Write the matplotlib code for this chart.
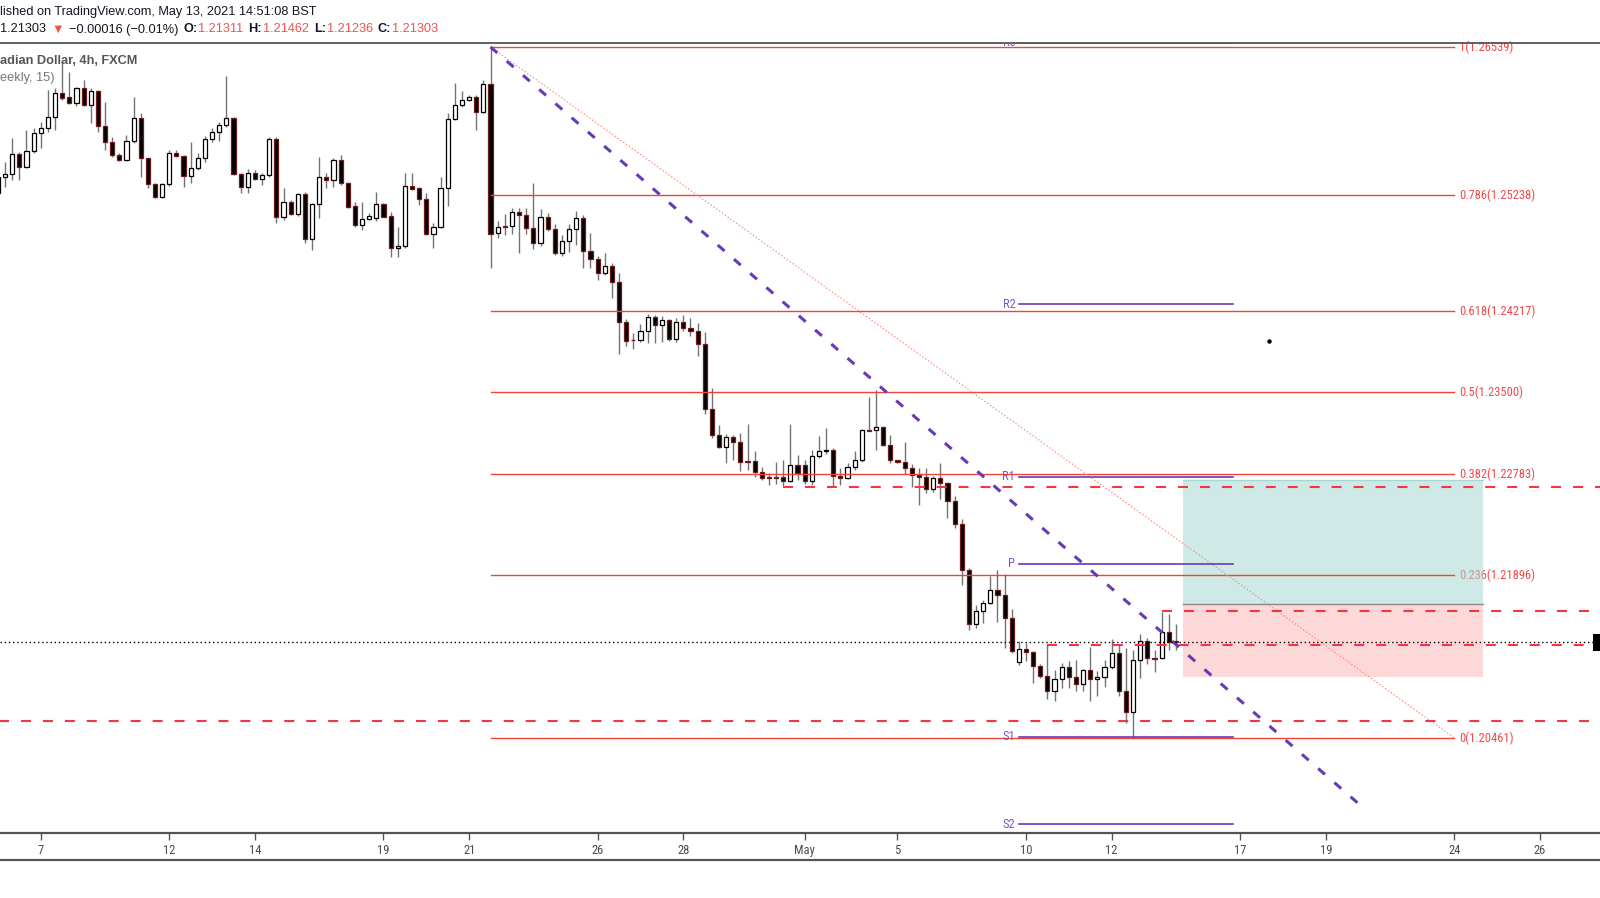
import matplotlib
matplotlib.use("Agg")
import matplotlib.pyplot as plt
from matplotlib import font_manager as fm
from matplotlib.lines import Line2D
from matplotlib.patches import Rectangle
import numpy as np

# USD/CAD 4h candles, x = bar number counted from the first bar of Apr 7
first_bar = -6
opens = [1.25254, 1.25393, 1.25419, 1.25595, 1.25486, 1.25627, 1.25780, 1.25824, 1.25927, 1.26132,
         1.26097, 1.26044, 1.26176, 1.26029, 1.26152, 1.25847, 1.25703, 1.25586, 1.25542, 1.25709,
         1.25912, 1.25560, 1.25331, 1.25217, 1.25331, 1.25604, 1.25577, 1.25401, 1.25472, 1.25560,
         1.25727, 1.25794, 1.25850, 1.25912, 1.25422, 1.25305, 1.25428, 1.25378, 1.25410, 1.25727,
         1.25041, 1.25173, 1.25067, 1.25246, 1.24847, 1.25155, 1.25393, 1.25366, 1.25542, 1.25340,
         1.25140, 1.24970, 1.25023, 1.25032, 1.25155, 1.25052, 1.24768, 1.24791, 1.25313, 1.25296,
         1.25199, 1.24891, 1.24958, 1.25296, 1.25903, 1.26026, 1.26073, 1.26097, 1.25965, 1.26211,
         1.24902, 1.24960, 1.24963, 1.25087, 1.25063, 1.24946, 1.24814, 1.25043, 1.24937, 1.24726,
         1.24832, 1.24937, 1.25034, 1.24746, 1.24673, 1.24550, 1.24612, 1.24471, 1.24119, 1.23964,
         1.23958, 1.24040, 1.24163, 1.24092, 1.24139, 1.23972, 1.24119, 1.24066, 1.24040, 1.23925,
         1.23353, 1.23125, 1.23019, 1.23107, 1.23063, 1.22893, 1.22893, 1.22799, 1.22752, 1.22755,
         1.22755, 1.22720, 1.22866, 1.22858, 1.22720, 1.22940, 1.22981, 1.22998, 1.22764, 1.22749,
         1.22843, 1.22902, 1.23166, 1.23169, 1.23195, 1.23034, 1.22902, 1.22887, 1.22834, 1.22774,
         1.22759, 1.22654, 1.22751, 1.22707, 1.22545, 1.22346, 1.21938, 1.21466, 1.21578, 1.21651,
         1.21762, 1.21721, 1.21519, 1.21132, 1.21246, 1.21220, 1.21094, 1.21006, 1.20874, 1.20982,
         1.21085, 1.21000, 1.20932, 1.21055, 1.20976, 1.21000, 1.21085, 1.21211, 1.20874, 1.20689,
         1.21143, 1.21317, 1.21164, 1.21164, 1.21396, 1.21311]
highs = [1.25440, 1.25530, 1.25736, 1.25618, 1.25809, 1.25824, 1.25882, 1.26161, 1.26176, 1.26410,
         1.26322, 1.26185, 1.26249, 1.26176, 1.26161, 1.26058, 1.25750, 1.25604, 1.25765, 1.26102,
         1.25962, 1.25560, 1.25346, 1.25346, 1.25633, 1.25633, 1.25589, 1.25706, 1.25610, 1.25756,
         1.25824, 1.25882, 1.26284, 1.25927, 1.25434, 1.25463, 1.25457, 1.25428, 1.25750, 1.25750,
         1.25296, 1.25193, 1.25258, 1.25266, 1.25164, 1.25574, 1.25428, 1.25566, 1.25589, 1.25355,
         1.25179, 1.25179, 1.25082, 1.25266, 1.25170, 1.25091, 1.24958, 1.25428, 1.25428, 1.25310,
         1.25252, 1.24988, 1.25398, 1.25956, 1.26226, 1.26155, 1.26117, 1.26117, 1.26249, 1.26539,
         1.25007, 1.25072, 1.25122, 1.25125, 1.25122, 1.25345, 1.25116, 1.25081, 1.24984, 1.24887,
         1.24984, 1.25098, 1.25063, 1.24905, 1.24697, 1.24729, 1.24638, 1.24550, 1.24148, 1.24025,
         1.24104, 1.24192, 1.24183, 1.24172, 1.24148, 1.24154, 1.24183, 1.24157, 1.24110, 1.24031,
         1.23541, 1.23215, 1.23136, 1.23127, 1.23145, 1.23224, 1.22984, 1.22843, 1.22793, 1.22887,
         1.22902, 1.23224, 1.22951, 1.22907, 1.22995, 1.23113, 1.23189, 1.23010, 1.22834, 1.22881,
         1.22981, 1.23180, 1.23459, 1.23526, 1.23204, 1.23127, 1.22910, 1.23063, 1.22872, 1.22839,
         1.22839, 1.22765, 1.22883, 1.22715, 1.22589, 1.22390, 1.21959, 1.21627, 1.21671, 1.21885,
         1.21935, 1.21906, 1.21592, 1.21314, 1.21293, 1.21226, 1.21108, 1.21284, 1.21058, 1.21117,
         1.21138, 1.21146, 1.21064, 1.21264, 1.21050, 1.21146, 1.21328, 1.21284, 1.21255, 1.21232,
         1.21372, 1.21343, 1.21234, 1.21572, 1.21551, 1.21462]
lows = [1.25237, 1.25310, 1.25369, 1.25369, 1.25472, 1.25604, 1.25648, 1.25794, 1.25809, 1.26073,
        1.26038, 1.26020, 1.26020, 1.25868, 1.25794, 1.25633, 1.25574, 1.25539, 1.25539, 1.25692,
        1.25398, 1.25296, 1.25210, 1.25208, 1.25316, 1.25574, 1.25305, 1.25340, 1.25457, 1.25530,
        1.25706, 1.25715, 1.25838, 1.25413, 1.25258, 1.25258, 1.25369, 1.25325, 1.25398, 1.24988,
        1.25017, 1.25061, 1.25052, 1.24812, 1.24753, 1.25032, 1.25296, 1.25310, 1.25325, 1.25120,
        1.24958, 1.24929, 1.25017, 1.25011, 1.25041, 1.24695, 1.24695, 1.24768, 1.25281, 1.25149,
        1.24885, 1.24768, 1.24944, 1.25140, 1.25897, 1.26014, 1.26067, 1.25809, 1.25956, 1.24594,
        1.24858, 1.24881, 1.24890, 1.24729, 1.24896, 1.24758, 1.24785, 1.24920, 1.24705, 1.24697,
        1.24735, 1.24793, 1.24597, 1.24594, 1.24485, 1.24535, 1.24330, 1.23834, 1.23908, 1.23878,
        1.23943, 1.23934, 1.23934, 1.23943, 1.23952, 1.23943, 1.24045, 1.23993, 1.23820, 1.23312,
        1.23098, 1.23010, 1.22878, 1.22902, 1.22805, 1.22822, 1.22755, 1.22726, 1.22687, 1.22696,
        1.22667, 1.22711, 1.22726, 1.22696, 1.22687, 1.22922, 1.22960, 1.22667, 1.22682, 1.22740,
        1.22822, 1.22887, 1.23157, 1.22998, 1.23028, 1.22881, 1.22881, 1.22784, 1.22667, 1.22510,
        1.22619, 1.22625, 1.22560, 1.22393, 1.22311, 1.21806, 1.21410, 1.21425, 1.21475, 1.21636,
        1.21481, 1.21255, 1.21211, 1.21102, 1.21138, 1.20947, 1.20985, 1.20806, 1.20786, 1.20903,
        1.20903, 1.20874, 1.20874, 1.20786, 1.20830, 1.20912, 1.21064, 1.20830, 1.20595, 1.20461,
        1.20985, 1.21114, 1.21041, 1.21152, 1.21234, 1.21236]
closes = [1.25393, 1.25422, 1.25595, 1.25486, 1.25627, 1.25780, 1.25824, 1.25927, 1.26132, 1.26094,
          1.26044, 1.26176, 1.26029, 1.26152, 1.25847, 1.25703, 1.25586, 1.25542, 1.25709, 1.25912,
          1.25560, 1.25331, 1.25217, 1.25331, 1.25604, 1.25577, 1.25401, 1.25472, 1.25560, 1.25727,
          1.25794, 1.25853, 1.25912, 1.25422, 1.25305, 1.25428, 1.25378, 1.25410, 1.25727, 1.25041,
          1.25173, 1.25067, 1.25246, 1.24847, 1.25155, 1.25393, 1.25366, 1.25542, 1.25340, 1.25134,
          1.24970, 1.25023, 1.25049, 1.25155, 1.25047, 1.24768, 1.24791, 1.25313, 1.25293, 1.25199,
          1.24891, 1.24958, 1.25296, 1.25903, 1.26026, 1.26073, 1.26097, 1.25965, 1.26211, 1.24897,
          1.24955, 1.24952, 1.25087, 1.25063, 1.24946, 1.24814, 1.25043, 1.24937, 1.24726, 1.24832,
          1.24937, 1.25034, 1.24746, 1.24673, 1.24550, 1.24612, 1.24471, 1.24119, 1.23952, 1.23958,
          1.24040, 1.24163, 1.24092, 1.24139, 1.23966, 1.24119, 1.24066, 1.24040, 1.23925, 1.23353,
          1.23125, 1.23019, 1.23107, 1.23063, 1.22887, 1.22887, 1.22799, 1.22746, 1.22746, 1.22752,
          1.22720, 1.22866, 1.22790, 1.22720, 1.22940, 1.22981, 1.22998, 1.22764, 1.22749, 1.22843,
          1.22902, 1.23166, 1.23163, 1.23195, 1.23034, 1.22902, 1.22887, 1.22834, 1.22770, 1.22759,
          1.22654, 1.22751, 1.22707, 1.22545, 1.22346, 1.21938, 1.21466, 1.21578, 1.21651, 1.21762,
          1.21721, 1.21519, 1.21229, 1.21246, 1.21220, 1.21094, 1.21006, 1.20874, 1.20982, 1.21085,
          1.21000, 1.20932, 1.21055, 1.20976, 1.21000, 1.21085, 1.21211, 1.20874, 1.20689, 1.21143,
          1.21317, 1.21161, 1.21158, 1.21396, 1.21308, 1.21303]

day_ticks = [0, 18, 30, 48, 60, 78, 90, 107, 120, 138, 150, 168, 180, 198, 210]
day_labels = ["7", "12", "14", "19", "21", "26", "28", "May", "5", "10", "12", "17", "19", "24", "26"]

# fib retracement drawn from the Apr 21 high to the May 12 low
fib_bars = [63, 198]
fib_ratios = ["1", "0.786", "0.618", "0.5", "0.382", "0.236", "0"]
fib_prices = [1.26539, 1.25238, 1.24217, 1.23500, 1.22783, 1.21896, 1.20461]

# weekly pivots
pivot_names = ["R3", "R2", "R1", "P", "S1", "S2"]
pivot_prices = [1.26574, 1.24278, 1.22760, 1.21994, 1.20470, 1.19700]
pivot_bars = [137, 167]

trend_bars = [63, 185]
trend_prices = [1.26539, 1.19860]

level_prices = [1.22666, 1.21575, 1.21278, 1.20610]
level_from = [104, 157, 141, -10]

pos_bars = [160, 202]
pos_entry = 1.21636
pos_target = 1.22727
pos_stop = 1.20997

last_price = 1.21303
dot_bar, dot_price = 172, 1.23952

W, H = 1600, 898
RED = "#f44336"
PURPLE = "#673ab7"

# a narrow face for the chart labels, if one is installed
installed = {(f.name, f.stretch) for f in fm.fontManager.ttflist}
names = {n for n, s in installed}
narrow_kw = dict(family=["DejaVu Sans"], fontsize=7.8)
for cand in ["Liberation Sans Narrow", "Roboto Condensed", "Open Sans Condensed",
             "Noto Sans Condensed", "DejaVu Sans Condensed"]:
    if cand in names:
        narrow_kw = dict(family=[cand, "DejaVu Sans"], fontsize=9)
        break
else:
    if ("DejaVu Sans", "condensed") in installed or ("DejaVu Sans", 500) in installed:
        narrow_kw = dict(family=["DejaVu Sans"], fontstretch="condensed", fontsize=8.6)
    elif "Roboto" in names:
        narrow_kw = dict(family=["Roboto", "DejaVu Sans"], fontstretch="condensed", fontsize=8.6)
SANS = ["Liberation Sans", "DejaVu Sans"]

plt.rcParams["lines.scale_dashes"] = False
fig = plt.figure(figsize=(W / 100, H / 100), dpi=100)
ax = fig.add_axes([0, (H - 833) / H, 1, (833 - 43) / H])
ax.set_xlim(-5.71, 218.4)
ax.set_ylim(1.19625, 1.26574)

o = np.array(opens)
hi = np.array(highs)
lo = np.array(lows)
c = np.array(closes)
x = np.arange(len(o)) + first_bar
up = c >= o
bottom = np.minimum(o, c)
height = np.maximum(np.abs(c - o), 0.00007)

ax.vlines(x, lo, hi, color="#737375", lw=1, zorder=2)
ax.bar(x[up], height[up], bottom=bottom[up], width=0.58, color="white",
       edgecolor="black", lw=0.9, zorder=3)
ax.bar(x[~up], height[~up], bottom=bottom[~up], width=0.58, color="black",
       edgecolor="#6e1c1c", lw=0.9, zorder=3)

# fib
for r, p in zip(fib_ratios, fib_prices):
    ax.plot(fib_bars, [p, p], color=RED, lw=1, zorder=4)
    ax.text(fib_bars[1] + 0.65, p, f"{r}({p:.5f})", color="#f0494a",
            va="center", ha="left", zorder=1.2, **narrow_kw)
ax.plot(fib_bars, [fib_prices[0], fib_prices[-1]], color="#ff8a80", lw=0.9,
        ls=(0, (1, 1.5)), zorder=4)

# position tool, translucent over the fib labels
ax.add_patch(Rectangle((pos_bars[0], pos_entry), pos_bars[1] - pos_bars[0],
                       pos_target - pos_entry, color="#a7d8d2", alpha=0.55, lw=0, zorder=1.5))
ax.add_patch(Rectangle((pos_bars[0], pos_stop), pos_bars[1] - pos_bars[0],
                       pos_entry - pos_stop, color="#fab9b9", alpha=0.55, lw=0, zorder=1.5))
ax.plot(pos_bars, [pos_entry, pos_entry], color="#8a8a8a", lw=1, zorder=1.6)
ax.plot(pos_bars, [pos_target, pos_target], color="#a8d8d3", lw=1, zorder=1.6)

# pivots
for name, p in zip(pivot_names, pivot_prices):
    ax.plot(pivot_bars, [p, p], color=PURPLE, lw=1.2, zorder=4)
    ax.text(pivot_bars[0] - 0.5, p, name, color="#7e57c2", va="center", ha="right",
            zorder=5, clip_on=True, **narrow_kw)

# horizontal dashed levels
for p, b in zip(level_prices, level_from):
    ax.plot([b, 230], [p, p], color="#f23645", lw=1.5, ls=(0, (7.2, 8.6)),
            zorder=4, dash_capstyle="butt")

# falling trend line
ax.plot(trend_bars, trend_prices, color=PURPLE, lw=2.2, ls=(0, (6.5, 9)),
        zorder=4, dash_capstyle="butt")

ax.axhline(last_price, color="black", lw=1, ls=(0, (1, 2)), zorder=6)
ax.plot([dot_bar], [dot_price], "o", color="black", ms=2.2, zorder=6)
# price-scale badge, only its left edge is inside the picture
ax.add_patch(Rectangle((1 - 7 / W, last_price - 0.00075), 0.01, 0.0015,
                       transform=ax.get_yaxis_transform(), fc="black", ec="none",
                       clip_on=False, zorder=7))

# axes look
for s in ["left", "right"]:
    ax.spines[s].set_visible(False)
ax.spines["top"].set_color("#555555")
ax.spines["top"].set_linewidth(1.3)
ax.spines["bottom"].set_color("#555555")
ax.spines["bottom"].set_linewidth(1.6)
ax.set_yticks([])
ax.set_xticks(day_ticks)
ax.set_xticklabels(day_labels, color="#4a4a4a", **narrow_kw)
ax.tick_params(axis="x", length=5, width=1, color="#555555", pad=3)
fig.add_artist(Line2D([0, 1], [(H - 860) / H] * 2, color="#555555", lw=1.6,
                      transform=fig.transFigure))

# header rows
renderer = fig.canvas.get_renderer()


def put_row(pieces, x_px, y_px, size, fams):
    for txt, color, weight, gap in pieces:
        t = fig.text(x_px / W, 1 - y_px / H, txt, color=color, fontsize=size,
                     fontweight=weight, family=fams, va="center", ha="left")
        x_px += t.get_window_extent(renderer).width + gap


put_row([("lished on TradingView.com, May 13, 2021 14:51:08 BST", "#131722", "normal", 0)],
        0, 12.5, 9.2, SANS)
VAL = "#ef5350"
put_row([("1.21303", "#131722", "normal", 5),
         ("\u25bc", VAL, "normal", 5),
         ("\u22120.00016 (\u22120.01%)", "#131722", "normal", 5),
         ("O:", "#131722", "bold", 1), ("1.21311", VAL, "normal", 5),
         ("H:", "#131722", "bold", 1), ("1.21462", VAL, "normal", 5),
         ("L:", "#131722", "bold", 1), ("1.21236", VAL, "normal", 5),
         ("C:", "#131722", "bold", 1), ("1.21303", VAL, "normal", 0)],
        0, 29.5, 9.2, SANS)
put_row([("adian Dollar, 4h, FXCM", "#555555", "bold", 0)], 0, 61, 9.2, SANS)
put_row([("eekly, 15)", "#777777", "normal", 0)], 0, 78, 9.2, SANS)

fig.savefig("out.png", dpi=100)
